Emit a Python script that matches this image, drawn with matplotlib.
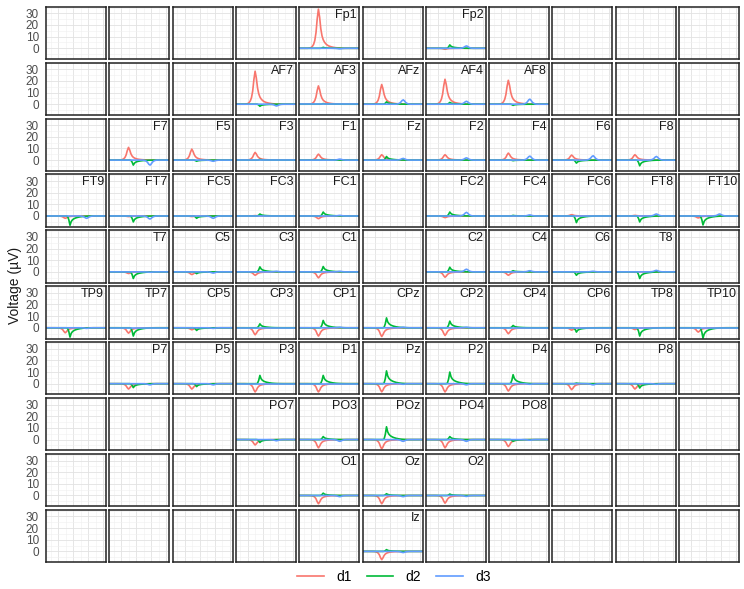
import numpy as np
import matplotlib
matplotlib.use('Agg')
import matplotlib.pyplot as plt

plt.rcParams['font.family'] = ['Liberation Sans', 'DejaVu Sans']

# time axis (s), epoch -0.2 .. 0.8
time = np.linspace(-0.2, 0.8, 51)

# response shapes (peak = 1)
shape_d1 = [0.0] * 8 + [0.005, 0.01, 0.02, 0.05, 0.10, 0.20, 0.40, 0.75, 1.00, 0.80,
                        0.50, 0.32, 0.22, 0.16, 0.12, 0.09, 0.07, 0.055, 0.045, 0.035,
                        0.028, 0.022, 0.017, 0.013, 0.010, 0.007, 0.005, 0.003, 0.002] + [0.0] * 14
shape_d2 = [0.0] * 18 + [0.05, 0.40, 1.00, 0.60, 0.42, 0.32, 0.25, 0.20, 0.16, 0.13,
                         0.10, 0.08, 0.06, 0.045, 0.035, 0.025, 0.018, 0.012, 0.008,
                         0.005, 0.003, 0.001] + [0.0] * 11
shape_d3 = [0.0] * 29 + [0.05, 0.12, 0.25, 0.50, 0.85, 1.00, 0.75, 0.40, 0.20, 0.08,
                         0.03] + [0.0] * 11

channels = ['Fp1', 'Fp2',
            'AF7', 'AF3', 'AFz', 'AF4', 'AF8',
            'F7', 'F5', 'F3', 'F1', 'Fz', 'F2', 'F4', 'F6', 'F8',
            'FT9', 'FT7', 'FC5', 'FC3', 'FC1', 'FC2', 'FC4', 'FC6', 'FT8', 'FT10',
            'T7', 'C5', 'C3', 'C1', 'C2', 'C4', 'C6', 'T8',
            'TP9', 'TP7', 'CP5', 'CP3', 'CP1', 'CPz', 'CP2', 'CP4', 'CP6', 'TP8', 'TP10',
            'P7', 'P5', 'P3', 'P1', 'Pz', 'P2', 'P4', 'P6', 'P8',
            'PO7', 'PO3', 'POz', 'PO4', 'PO8',
            'O1', 'Oz', 'O2',
            'Iz']

# peak amplitude (µV) per channel
amp_d1 = [33.6, -0.8,
          28.3, 15.7, 16.9, 21.4, 20.5,
          10.9, 9.4, 6.6, 5.1, 4.6, 4.6, 6.0, 4.3, 4.6,
          -2.0, -0.5, -0.5, 0.3, -2.3, -1.4, 0.0, 1.1, 0.5, -1.7,
          -1.4, -2.3, -2.9, -5.1, -4.6, -2.9, -0.3, -0.3,
          -4.3, -4.6, -1.7, -6.0, -7.1, -7.5, -6.6, -5.1, -2.0, -1.5, -3.7,
          -4.6, -4.6, -7.1, -7.1, -7.0, -7.1, -6.3, -5.1, -4.6,
          -4.6, -7.1, -8.0, -7.1, -6.0,
          -7.1, -7.1, -6.6,
          -7.1]
amp_d2 = [0.8, 2.9,
          -1.8, 0.5, 2.0, 1.5, -1.0,
          -4.3, -1.0, 0.5, 0.3, 3.1, 0.3, -0.5, -2.6, -4.9,
          -8.0, -5.1, -2.0, 1.7, 3.4, 3.4, 0.5, -5.7, -5.1, -7.7,
          -5.7, -1.5, 4.3, 4.6, 4.0, 1.0, -2.9, -5.7,
          -8.0, -7.1, -2.3, 3.4, 6.3, 8.5, 5.7, 2.0, -3.7, -7.1, -8.9,
          -3.4, -2.5, 7.1, 7.1, 11.0, 10.0, 7.7, 0.5, -3.7,
          -2.5, 2.6, 11.0, 2.6, -1.5,
          2.0, 1.5, 1.2,
          1.5]
amp_d3 = [-0.5, 2.0,
          -1.5, 0.0, 3.7, 2.5, 4.3,
          -4.3, -1.0, 0.0, 0.8, 1.4, 1.9, 3.4, 3.7, 3.1,
          -2.0, -2.6, -2.0, 0.0, 0.5, 3.1, 0.9, 0.0, 1.7, 1.7,
          -0.3, -1.0, 0.5, 0.5, 2.3, 1.0, 0.5, 1.3,
          -0.5, 0.0, -0.5, 0.0, 0.5, 0.5, 0.5, 0.0, 0.0, 0.0, 0.0,
          -1.0, -1.0, 0.0, 0.0, -0.5, -1.0, -0.5, -1.0, -0.5,
          -1.0, -1.5, -1.5, -1.5, -0.5,
          -1.0, -1.0, -0.8,
          -1.0]

conditions = ['d1', 'd2', 'd3']
colors = ['#F8766D', '#00BA38', '#619CFF']

# scalp layout, 10 rows x 11 columns
layout = [
    [None, None, None, None, 'Fp1', None, 'Fp2', None, None, None, None],
    [None, None, None, 'AF7', 'AF3', 'AFz', 'AF4', 'AF8', None, None, None],
    [None, 'F7', 'F5', 'F3', 'F1', 'Fz', 'F2', 'F4', 'F6', 'F8', None],
    ['FT9', 'FT7', 'FC5', 'FC3', 'FC1', None, 'FC2', 'FC4', 'FC6', 'FT8', 'FT10'],
    [None, 'T7', 'C5', 'C3', 'C1', None, 'C2', 'C4', 'C6', 'T8', None],
    ['TP9', 'TP7', 'CP5', 'CP3', 'CP1', 'CPz', 'CP2', 'CP4', 'CP6', 'TP8', 'TP10'],
    [None, 'P7', 'P5', 'P3', 'P1', 'Pz', 'P2', 'P4', 'P6', 'P8', None],
    [None, None, None, 'PO7', 'PO3', 'POz', 'PO4', 'PO8', None, None, None],
    [None, None, None, None, 'O1', 'Oz', 'O2', None, None, None, None],
    [None, None, None, None, None, 'Iz', None, None, None, None, None],
]

W, H = 744, 589
fig = plt.figure(figsize=(W / 100, H / 100), dpi=100)

x0, y0 = 46, 6.7       # top-left of first panel (px)
pw, ph = 60, 52.3      # panel size (px)
dx, dy = 63.3, 55.9    # panel pitch (px)

shapes = [np.array(shape_d1), np.array(shape_d2), np.array(shape_d3)]
amps = [amp_d1, amp_d2, amp_d3]
handles = []

for r, row in enumerate(layout):
    for c, name in enumerate(row):
        left = (x0 + c * dx) / W
        bottom = 1 - (y0 + r * dy + ph) / H
        ax = fig.add_axes([left, bottom, pw / W, ph / H])
        ax.set_xlim(-0.2, 0.8)
        ax.set_ylim(-9.2, 35.7)
        ax.set_xticks([0, 0.25, 0.5, 0.75])
        ax.set_xticks([-0.125, 0.125, 0.375, 0.625], minor=True)
        ax.set_yticks([0, 10, 20, 30])
        ax.set_yticks([-5, 5, 15, 25, 35], minor=True)
        ax.grid(which='major', color='#e2e2e2', lw=0.6)
        ax.grid(which='minor', color='#efefef', lw=0.4)
        ax.set_axisbelow(True)
        ax.tick_params(which='both', length=0, labelbottom=False)
        ax.tick_params(axis='y', labelsize=8.5, labelcolor='#4D4D4D', pad=5)
        if c != 0:
            ax.tick_params(axis='y', labelleft=False)
        for s in ax.spines.values():
            s.set_color('#222222')
            s.set_linewidth(1.1)
        if name is None:
            continue
        k = channels.index(name)
        for j, cond in enumerate(conditions):
            ln, = ax.plot(time, amps[j][k] * shapes[j], color=colors[j], lw=1.2,
                          label=cond, clip_on=True)
            if len(handles) < 3:
                handles.append(ln)
        ax.annotate(name, xy=(1, 1), xycoords='axes fraction', xytext=(-1.5, -1.5),
                    textcoords='offset points', ha='right', va='top', fontsize=9,
                    color='#1a1a1a')

fig.text(15 / W, 1 - 285 / H, 'Voltage (µV)', rotation=90, ha='center', va='center',
         fontsize=10, color='#1a1a1a')

# legend is centred on the panel area, not the whole figure
fig.legend(handles, conditions, loc='center', bbox_to_anchor=(394 / W, 1 - 577 / H),
           ncol=3, frameon=False, fontsize=10, handlelength=1.9, handletextpad=0.9,
           columnspacing=1.1)

fig.savefig('out.png', dpi=100)
